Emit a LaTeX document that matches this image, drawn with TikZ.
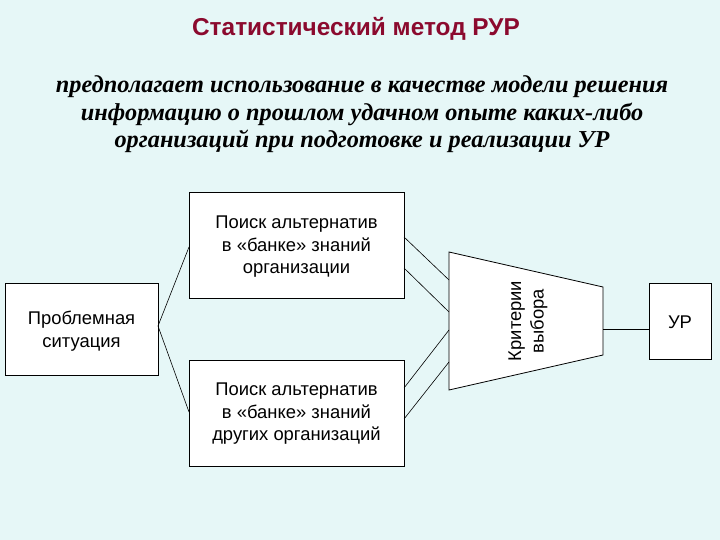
\documentclass[tikz,border=0pt]{standalone}
\usepackage{fontspec}
\setmainfont{Liberation Sans}
\newfontfamily\serifbi{Liberation Serif}
\definecolor{bgc}{HTML}{E6F7F7}
\definecolor{titlec}{HTML}{8B0A2E}
\begin{document}
\begin{tikzpicture}[x=1pt,y=-1pt,
  box/.style={draw=black,fill=white,line width=0.8pt},
  lbl/.style={align=center,font=\fontsize{18.4}{22.5}\selectfont,inner sep=0pt},
  conn/.style={draw=black,line width=0.6pt}]
\fill[bgc] (0,0) rectangle (720,540);
\useasboundingbox (0,0) rectangle (720,540);
\node[font=\fontsize{24.4}{28}\selectfont\bfseries,text=titlec] (title) at (356,29) {Статистический метод РУР};
\node[align=center,font=\fontsize{24.3}{27.5}\selectfont\serifbi\bfseries\itshape] (sub) at (362,114.5)
 {предполагает использование в качестве модели решения\\информацию о прошлом удачном опыте каких-либо\\организаций при подготовке и реализации УР};
\draw[box] (5,283) rectangle (158,375);
\node[lbl] (prob) at (81.5,331) {Проблемная\\ситуация};
\draw[box] (189,192) rectangle (404,298);
\node[lbl] (top) at (296.5,247) {Поиск альтернатив\\в «банке» знаний\\организации};
\draw[box] (189,360) rectangle (404,466);
\node[lbl] (bot) at (296.5,414) {Поиск альтернатив\\в «банке» знаний\\других организаций};
\draw[box] (449,252) -- (603,287) -- (603,355) -- (449,390) -- cycle;
\node[lbl,rotate=90] (crit) at (528,321) {Критерии\\выбора};
\draw[box] (649,283) rectangle (711,359);
\node[lbl] (ur) at (680,322) {УР};
\coordinate (pR) at (158,326);
\coordinate (tL) at (189,247);
\coordinate (bL) at (189,412);
\coordinate (t1) at (404,237); \coordinate (k1) at (449,280);
\coordinate (t2) at (404,268); \coordinate (k2) at (449,312);
\coordinate (b1) at (404,388); \coordinate (k3) at (449,330);
\coordinate (b2) at (404,419); \coordinate (k4) at (449,362);
\coordinate (kR) at (603,329); \coordinate (uL) at (649,329);
\draw[conn] (tL) -- (pR) -- (bL);
\draw[conn] (t1) -- (k1);
\draw[conn] (t2) -- (k2);
\draw[conn] (b1) -- (k3);
\draw[conn] (b2) -- (k4);
\draw[conn] (kR) -- (uL);
\end{tikzpicture}
\end{document}
